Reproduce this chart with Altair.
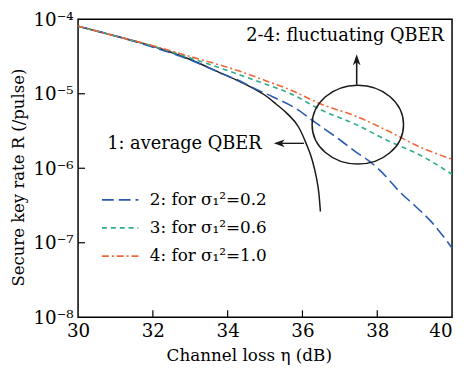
import altair as alt
import pandas as pd

# ---- data ----
series_labels = ["2: for σ₁²=0.2", "3: for σ₁²=0.6", "4: for σ₁²=1.0"]
series_colors = ["#2b5bb0", "#2faa8c", "#f0683a"]
series_dashes = [[12, 5], [5, 4], [7, 3, 2, 3]]

x_avg = [30, 31, 32, 33, 33.8, 34.3, 34.7, 35.0, 35.3, 35.6, 35.9, 36.1, 36.26, 36.37, 36.44, 36.48]
r_avg = [8.07e-5, 5.96e-5, 4.33e-5, 2.88e-5, 1.91e-5, 1.48e-5, 1.17e-5, 9.55e-6, 7.24e-6,
         5.37e-6, 3.55e-6, 2.14e-6, 1.29e-6, 7.59e-7, 4.57e-7, 2.63e-7]

x_s2 = [30, 31, 31.7, 33.0, 33.8, 34.33, 34.6, 35.2, 35.8, 36.35, 36.97, 37.49, 37.76, 38.28, 38.55, 39.0, 39.43, 40]
r_s2 = [8.07e-5, 5.96e-5, 4.71e-5, 2.84e-5, 1.91e-5, 1.48e-5, 1.26e-5, 9.12e-6, 6.46e-6, 4.10e-6,
        2.47e-6, 1.57e-6, 1.28e-6, 7.31e-7, 5.12e-7, 3.16e-7, 1.95e-7, 8.5e-8]

x_s3 = [30, 31, 32, 33, 34.33, 35.0, 35.65, 36.52, 37.41, 38.28, 39.16, 40]
r_s3 = [8.07e-5, 5.96e-5, 4.37e-5, 3.02e-5, 1.79e-5, 1.35e-5, 1.02e-5, 6.0e-6, 3.91e-6, 2.35e-6, 1.49e-6, 8.3e-7]

x_s4 = [30, 31, 32, 33, 34.33, 35.0, 35.65, 36.52, 37.41, 38.28, 39.16, 40]
r_s4 = [8.07e-5, 5.96e-5, 4.42e-5, 3.16e-5, 2.0e-5, 1.51e-5, 1.14e-5, 7.19e-6, 5.04e-6, 3.18e-6, 1.91e-6, 1.32e-6]

x_ticks = [30, 32, 34, 36, 38, 40]
x_inner_ticks = [32, 34, 36, 38]
y_ticks = [1e-4, 1e-5, 1e-6, 1e-7, 1e-8]
y_inner_ticks = [1e-5, 1e-6, 1e-7]

ann_text = ["1: average QBER", "2-4: fluctuating QBER"]
ann_x = [34.91, 37.14]
ann_r = [2.14e-6, 5.96e-5]

circle_x, circle_r = 37.48, 3.85e-6

FONT = "DejaVu Serif"

# ---- tables ----
avg_df = pd.DataFrame({"x": x_avg, "R": r_avg})
fl_df = pd.concat([
    pd.DataFrame({"x": xs, "R": rs, "series": lab})
    for xs, rs, lab in zip([x_s2, x_s3, x_s4], [r_s2, r_s3, r_s4], series_labels)
], ignore_index=True)

xs = alt.Scale(domain=[30, 40], nice=False, zero=False)
ys = alt.Scale(type="log", domain=[1e-8, 1e-4], nice=False)

x_axis = alt.Axis(values=x_ticks, title="Channel loss η (dB)", grid=False, ticks=False, domain=False,
                  labelFontSize=18.5, labelPadding=5, titleFontSize=17, titlePadding=7, titleX=173,
                  labelAlign={"condition": {"test": "datum.value >= 40", "value": "right"}, "value": "center"})
y_axis = alt.Axis(values=y_ticks, title="Secure key rate R (/pulse)", grid=False, ticks=False, domain=False,
                  labelFontSize=18.5, labelPadding=5, titleFontSize=16.7, titlePadding=6, titleY=160,
                  labelExpr="'10⁻' + ['0','1','2','3','⁴','⁵','⁶','⁷','⁸'][round(-log(datum.value)/LN10)]")

legend = alt.Legend(orient="none", legendX=28.7, legendY=169, title=None,
                    symbolType="M-1.42,0H1.42", symbolSize=676, symbolStrokeWidth=1.7,
                    labelFont=FONT, labelFontSize=17, labelColor="black", labelOffset=16,
                    rowPadding=6.5, padding=0)

avg_line = alt.Chart(avg_df).mark_line(color="#1a1a1a", strokeWidth=1.5, interpolate="monotone").encode(
    x=alt.X("x:Q", scale=xs, axis=x_axis),
    y=alt.Y("R:Q", scale=ys, axis=y_axis),
)

fl_lines = alt.Chart(fl_df).mark_line(strokeWidth=1.6, interpolate="monotone").encode(
    x=alt.X("x:Q", scale=xs),
    y=alt.Y("R:Q", scale=ys),
    color=alt.Color("series:N", scale=alt.Scale(domain=series_labels, range=series_colors), legend=legend),
    strokeDash=alt.StrokeDash("series:N", scale=alt.Scale(domain=series_labels, range=series_dashes), legend=legend),
)

xt = alt.Chart(pd.DataFrame({"x": x_inner_ticks})).mark_rule(color="black", strokeWidth=1.2).encode(
    x=alt.X("x:Q", scale=xs), y=alt.value(302), y2=alt.value(295))
yt = alt.Chart(pd.DataFrame({"R": y_inner_ticks})).mark_rule(color="black", strokeWidth=1.2).encode(
    y=alt.Y("R:Q", scale=ys), x=alt.value(0), x2=alt.value(7))

ann_df = pd.DataFrame({"x": ann_x, "R": ann_r, "t": ann_text})
ann1 = alt.Chart(ann_df.iloc[[0]]).mark_text(align="right", baseline="middle", font=FONT, fontSize=18,
                                             color="black").encode(
    x=alt.X("x:Q", scale=xs), y=alt.Y("R:Q", scale=ys), text="t:N")
ann2 = alt.Chart(ann_df.iloc[[1]]).mark_text(align="center", baseline="middle", font=FONT, fontSize=18,
                                             color="black").encode(
    x=alt.X("x:Q", scale=xs), y=alt.Y("R:Q", scale=ys), text="t:N")

# arrows
harrow = alt.Chart(pd.DataFrame({"x": [36.04], "x2": [35.32], "R": [2.16e-6]})).mark_rule(
    color="#1a1a1a", strokeWidth=1.4).encode(
    x=alt.X("x:Q", scale=xs), x2="x2:Q", y=alt.Y("R:Q", scale=ys))
hhead = alt.Chart(pd.DataFrame({"x": [35.38], "R": [2.16e-6]})).mark_point(
    shape="M-1,0L1,-0.7L0.45,0L1,0.7Z", filled=True, size=121, color="#1a1a1a", opacity=1).encode(
    x=alt.X("x:Q", scale=xs), y=alt.Y("R:Q", scale=ys))
varrow = alt.Chart(pd.DataFrame({"x": [37.45], "R": [1.32e-5], "R2": [3.0e-5]})).mark_rule(
    color="#1a1a1a", strokeWidth=1.6).encode(
    x=alt.X("x:Q", scale=xs), y=alt.Y("R:Q", scale=ys), y2="R2:Q")
vhead = alt.Chart(pd.DataFrame({"x": [37.45], "R": [2.86e-5]})).mark_point(
    shape="M0,-1L-0.7,1L0,0.45L0.7,1Z", filled=True, size=121, color="#1a1a1a", opacity=1).encode(
    x=alt.X("x:Q", scale=xs), y=alt.Y("R:Q", scale=ys))

ellipse = alt.Chart(pd.DataFrame({"x": [circle_x], "R": [circle_r]})).mark_point(
    shape="M-1,0A1,0.863,0,1,1,1,0A1,0.863,0,1,1,-1,0Z", filled=False, size=8590,
    stroke="#1a1a1a", strokeWidth=1.5, opacity=1).encode(
    x=alt.X("x:Q", scale=xs), y=alt.Y("R:Q", scale=ys))

chart = alt.layer(avg_line, fl_lines, xt, yt, ellipse, harrow, hhead, varrow, vhead, ann1, ann2).properties(
    width=379, height=302,
    padding={"left": 2, "top": 0, "right": 0, "bottom": 0},
).configure_view(stroke="black", strokeWidth=1.5).configure_axis(
    labelFont=FONT, titleFont=FONT, labelColor="black", titleColor="black", titleFontWeight="normal"
)

chart.save("out.html", embed_options={"renderer": "svg", "actions": False})
